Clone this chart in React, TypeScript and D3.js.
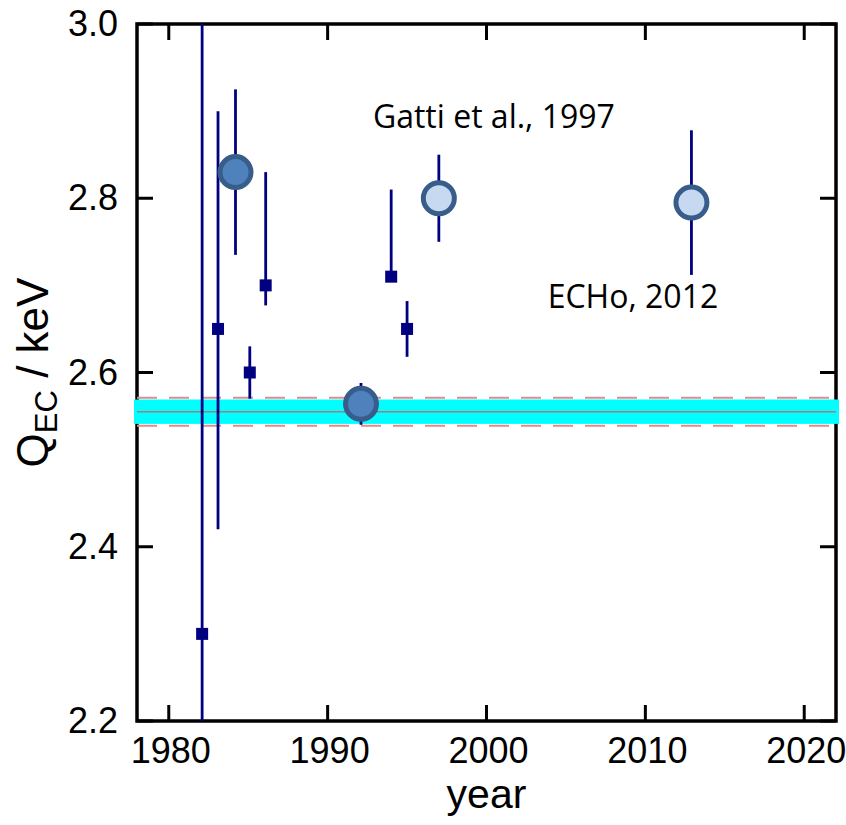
import React from "react";
import * as d3 from "d3";

// measurements: small squares
const squareYears = [1982.1, 1983.1, 1985.1, 1986.1, 1994, 1995];
const squareQ = [2.3, 2.65, 2.6, 2.7, 2.71, 2.65];
const squareErrLow = [0.7, 0.23, 0.03, 0.023, 0.005, 0.032];
const squareErrHigh = [0.7, 0.25, 0.03, 0.13, 0.1, 0.032];

// measurements: big circles
const circleYears = [1984.2, 1992.1, 1997, 2012.9];
const circleQ = [2.83, 2.564, 2.8, 2.795];
const circleErr = [0.095, 0.024, 0.05, 0.083];
const circleKind = ["dark", "dark", "light", "light"];

// reference value band
const qRef = 2.555;
const qRefBand = 0.014;
const qRefDash = 0.016;

const xTicks = [1980, 1990, 2000, 2010, 2020];
const yTicks = [2.2, 2.4, 2.6, 2.8, 3.0];

const annotations = [
  { text: "Gatti et al., 1997", year: 1992.85, q: 2.881 },
  { text: "ECHo, 2012", year: 2003.85, q: 2.674 },
];

const W = 846;
const H = 825;
const left = 137;
const right = 836;
const top = 24;
const bottom = 721;

export default function App() {
  const x = d3.scaleLinear().domain([1978, 2022]).range([left, right]);
  const y = d3.scaleLinear().domain([2.2, 3.0]).range([bottom, top]);
  const tickLen = 16;
  const navy = "#000080";
  const axisFont = "'Liberation Sans', Arial, sans-serif";

  const squares = squareYears.map((yr, i) => ({
    yr,
    q: squareQ[i],
    lo: squareQ[i] - squareErrLow[i],
    hi: squareQ[i] + squareErrHigh[i],
  }));
  const circles = circleYears.map((yr, i) => ({
    yr,
    q: circleQ[i],
    lo: circleQ[i] - circleErr[i],
    hi: circleQ[i] + circleErr[i],
    kind: circleKind[i],
  }));

  return (
    <svg
      width={W}
      height={H}
      style={{ position: "absolute", left: 0, top: 0, background: "#fff" }}
    >
      <defs>
        <clipPath id="plot">
          <rect x={left} y={top} width={right - left} height={bottom - top} />
        </clipPath>
      </defs>

      {/* ticks, inward on all four sides */}
      <g stroke="#000" strokeWidth={3}>
        {xTicks.map((t) => (
          <g key={"xt" + t}>
            <line x1={x(t)} x2={x(t)} y1={bottom} y2={bottom - tickLen} />
            <line x1={x(t)} x2={x(t)} y1={top} y2={top + tickLen} />
          </g>
        ))}
        {yTicks.map((t) => (
          <g key={"yt" + t}>
            <line x1={left} x2={left + tickLen} y1={y(t)} y2={y(t)} />
            <line x1={right} x2={right - tickLen} y1={y(t)} y2={y(t)} />
          </g>
        ))}
      </g>
      <rect
        x={left}
        y={top}
        width={right - left}
        height={bottom - top}
        fill="none"
        stroke="#000"
        strokeWidth={3.5}
      />

      {/* tick labels */}
      <g fontFamily={axisFont} fontSize={36} fill="#000">
        {xTicks.map((t) => (
          <text key={"xl" + t} x={x(t) + 2} y={bottom + 42} textAnchor="middle">
            {t}
          </text>
        ))}
        {yTicks.map((t) => (
          <text
            key={"yl" + t}
            x={left - 19}
            y={y(t) + 12}
            textAnchor="end"
          >
            {t.toFixed(1)}
          </text>
        ))}
      </g>

      {/* axis titles */}
      <text
        x={(left + right) / 2}
        y={808}
        textAnchor="middle"
        fontFamily={axisFont}
        fontSize={41}
      >
        year
      </text>
      <text
        transform={`translate(48, ${(top + bottom) / 2}) rotate(-90)`}
        textAnchor="middle"
        fontFamily={axisFont}
        fontSize={44}
      >
        Q
        <tspan fontSize={31} dy={9}>
          EC
        </tspan>
        <tspan dy={-9}> / keV</tspan>
      </text>

      {/* reference band, drawn across the frame */}
      <rect
        x={left - 3}
        width={right - left + 6}
        y={y(qRef + qRefBand)}
        height={y(qRef - qRefBand) - y(qRef + qRefBand)}
        fill="#00FFFF"
      />
      <g clipPath="url(#plot)">
        {[qRef + qRefDash, qRef - qRefDash].map((v, i) => (
          <line
            key={"d" + i}
            x1={left}
            x2={right}
            y1={y(v)}
            y2={y(v)}
            stroke="#E08C8C"
            strokeWidth={2}
            strokeDasharray="20,12"
          />
        ))}
        <line
          x1={left}
          x2={right}
          y1={y(qRef)}
          y2={y(qRef)}
          stroke="#B07878"
          strokeWidth={1.5}
        />

        {/* error bars */}
        {squares.concat(circles as any).map((d, i) => (
          <line
            key={"e" + i}
            x1={x(d.yr)}
            x2={x(d.yr)}
            y1={y(d.hi)}
            y2={y(d.lo)}
            stroke={navy}
            strokeWidth={2.8}
          />
        ))}
        {squares.map((d, i) => (
          <rect
            key={"s" + i}
            x={x(d.yr) - 6}
            y={y(d.q) - 6}
            width={12}
            height={12}
            fill={navy}
          />
        ))}
        {circles.map((d, i) => (
          <circle
            key={"c" + i}
            cx={x(d.yr)}
            cy={y(d.q)}
            r={15.5}
            fill={d.kind === "dark" ? "#4F81BD" : "#C6D9F1"}
            stroke="#385D8A"
            strokeWidth={5}
          />
        ))}
      </g>

      {/* annotations */}
      {annotations.map((a) => (
        <text
          key={a.text}
          x={x(a.year)}
          y={y(a.q)}
          fontFamily="'Open Sans', 'Noto Sans', sans-serif"
          fontSize={32}
          fill="#000"
        >
          {a.text}
        </text>
      ))}
    </svg>
  );
}
